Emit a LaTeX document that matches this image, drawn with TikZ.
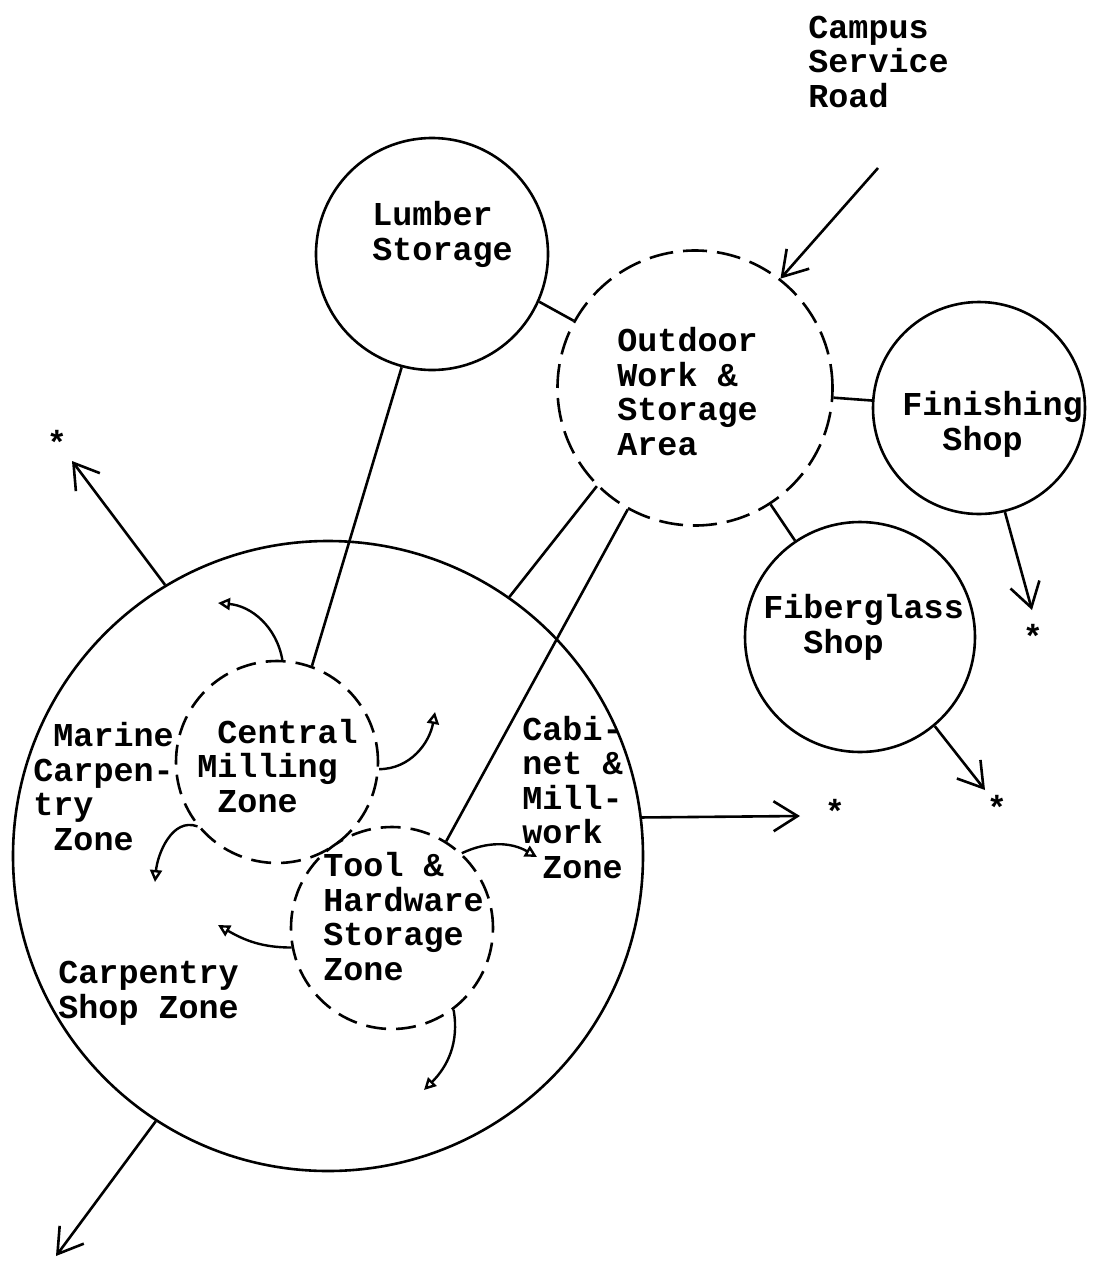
\documentclass[tikz,border=0pt]{standalone}
\usepackage{fontspec}
\setmainfont{Liberation Mono}
\usetikzlibrary{arrows.meta}
\begin{document}
\begin{tikzpicture}[x=0.5pt,y=-0.5pt,
  zone/.style={circle, draw, line width=1.3pt, inner sep=0pt},
  dashzone/.style={zone, dash pattern=on 12pt off 5pt},
  smalldash/.style={zone, dash pattern=on 10pt off 5pt},
  lbl/.style={font=\fontsize{16.7}{17.2}\selectfont\bfseries, align=left, inner sep=0pt, anchor=base west},
  starlbl/.style={font=\fontsize{16.7}{17.2}\selectfont\bfseries, inner sep=0pt, anchor=base},
  link/.style={line width=1.3pt},
  outarrow/.style={line width=1.3pt, -{Straight Barb[length=12pt,width=15pt]}},
  flow/.style={line width=1.2pt, -{Triangle[open,length=6pt,width=6pt]}},
]
\fill[white] (0,0) rectangle (1102,1270);
\useasboundingbox (0,0) rectangle (1102,1270);

% areas
\node[zone, minimum size=116pt] (lumber) at (432,254) {};
\node[dashzone, minimum size=137.5pt] (outdoor) at (695,388) {};
\node[zone, minimum size=106pt] (finishing) at (979,408) {};
\node[zone, minimum size=115pt] (fiberglass) at (860,637) {};
\node[zone, minimum size=315pt] (carpentry) at (328,856) {};
\node[smalldash, minimum size=101pt] (milling) at (277,762) {};
\node[smalldash, minimum size=101pt] (tool) at (392,928) {};

% labels (anchored at the baseline of their last line)
\node[lbl] (roadtext) at (808,107) {Campus\\Service\\Road};
\node[lbl] (lumbertext) at (372,260) {Lumber\\Storage};
\node[lbl] (outdoortext) at (617,455) {Outdoor\\Work \&\\Storage\\Area};
\node[lbl] (finishtext) at (902,450) {Finishing\\\phantom{XX}Shop};
\node[lbl] (fibertext) at (763,653) {Fiberglass\\\phantom{XX}Shop};
\node[lbl] (millingtext) at (197,812) {\phantom{X}Central\\Milling\\\phantom{X}Zone};
\node[lbl] (marinetext) at (33,850) {\phantom{X}Marine\\Carpen-\\try\\\phantom{X}Zone};
\node[lbl] (cabinettext) at (522,878) {Cabi-\\net \&\\Mill-\\work\\\phantom{X}Zone};
\node[lbl] (tooltext) at (323,980) {Tool \&\\Hardware\\Storage\\Zone};
\node[lbl] (carptext) at (58,1018) {Carpentry\\Shop Zone};

% links between areas
\draw[link] (lumber.-105) -- (milling.70);
\draw[link] (lumber.-24.6) -- (outdoor.151);
\draw[link] (outdoor.-4) -- (finishing.176);
\draw[link] (outdoor.-57) -- (fiberglass.124);
\draw[link] (outdoor.-135) -- (carpentry.55.3);
\draw[link] (outdoor.-119) -- (tool.58);

% service road access
\coordinate (road) at (878,168);
\draw[outarrow] (road) -- (outdoor.52);

% exits
\coordinate (exitA) at (72,461);
\coordinate (exitB) at (56,1256);
\coordinate (exitC) at (800,816);
\coordinate (exitD) at (1032,610);
\coordinate (exitE) at (985,790);
\draw[outarrow] (carpentry.121.8) -- (exitA);
\draw[outarrow] (carpentry.-123.5) -- (exitB);
\draw[outarrow] (carpentry.7) -- (exitC);
\draw[outarrow] (finishing.-76) -- (exitD);
\draw[outarrow] (fiberglass.-50) -- (exitE);
\node[starlbl] (starA) at (57,454) {*};
\node[starlbl] (starC) at (835,823) {*};
\node[starlbl] (starD) at (1033,648) {*};
\node[starlbl] (starE) at (997,819) {*};

% flows out of the milling and storage zones
\coordinate (f1) at (218,603);
\coordinate (f2) at (435,712);
\coordinate (f3) at (155,882);
\coordinate (f4) at (218,925);
\coordinate (f5) at (537,857);
\coordinate (f6) at (424,1090);
\draw[flow] (milling.87) to[out=100,in=-5] (f1);
\draw[flow] (milling.-4) to[out=0,in=-100] (f2);
\draw[flow] (milling.-141) to[out=160,in=85] (f3);
\draw[flow] (tool.-169) to[out=180,in=-30] (f4);
\draw[flow] (tool.47) to[out=25,in=150] (f5);
\draw[flow] (tool.-53) to[out=-80,in=45] (f6);
\end{tikzpicture}
\end{document}
